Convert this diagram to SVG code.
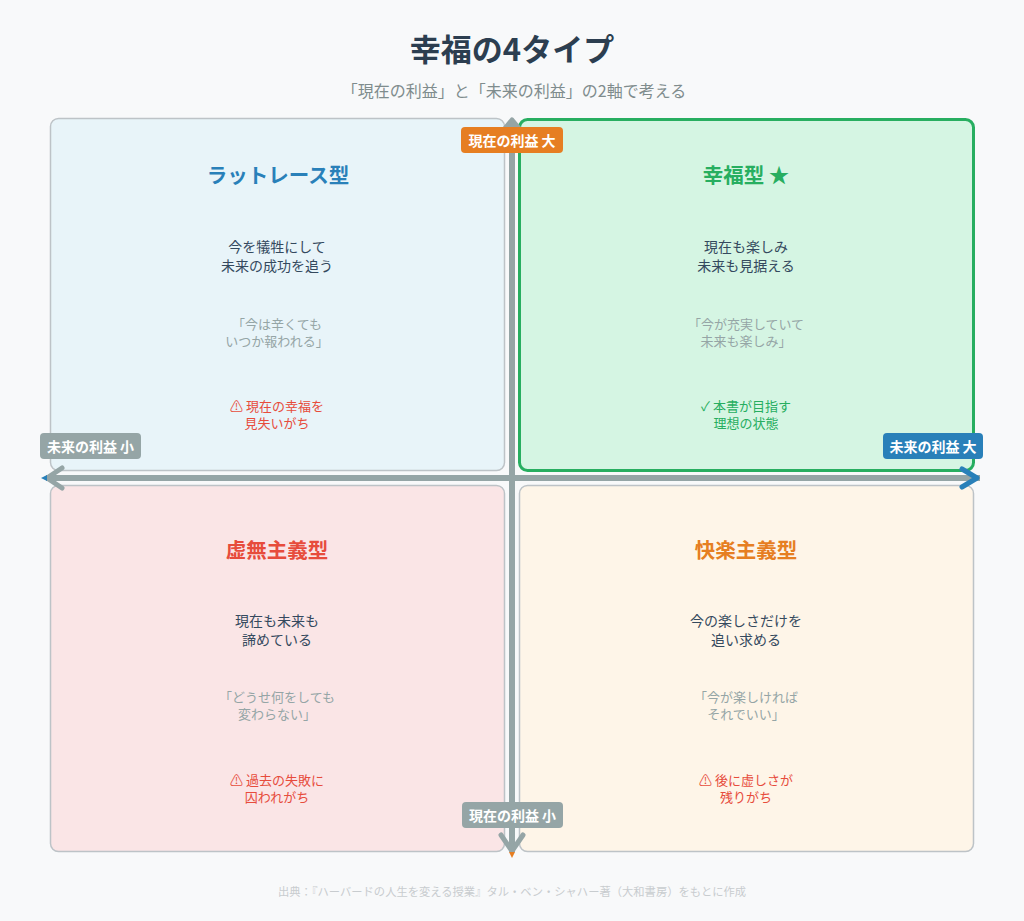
<svg xmlns="http://www.w3.org/2000/svg" width="1024" height="921" viewBox="0 0 1024 921">
<style>
text{font-family:"Noto Sans CJK JP","Noto Sans",sans-serif;text-anchor:middle;dominant-baseline:central}
.title{font-size:31px;font-weight:700;fill:#2c3e50}
.sub{font-size:16px;fill:#7f8c8d}
.qt{font-size:20.5px;font-weight:700}
.desc{font-size:14px;fill:#34495e}
.quote{font-size:13px;fill:#95a5a6}
.warn{font-size:13px;fill:#e74c3c}
.ok{font-size:13px;fill:#27ae60}
.lbl{font-size:14px;font-weight:700;fill:#ffffff}
.q{stroke:#bdc3c7;stroke-width:1.5}
.axis{stroke:#95a5a6;stroke-width:6;fill:none}
.head{stroke:#95a5a6;stroke-width:5;fill:none;stroke-linecap:round;stroke-linejoin:round}
.foot{font-size:11.3px;fill:#c8cccf}
</style>
<rect width="1024" height="921" fill="#f8f9fa"/>
<text class="title" x="512" y="47">幸福の4タイプ</text>
<text class="sub" x="514" y="90">「現在の利益」と「未来の利益」の2軸で考える</text>

<g id="q-ratrace">
<rect class="q" x="50.5" y="118.5" width="454" height="352" rx="8" fill="#e8f4f9"/>
<text class="qt" x="278" y="174" fill="#2980b9">ラットレース型</text>
<text class="desc" x="277" y="246">今を犠牲にして</text>
<text class="desc" x="277" y="265">未来の成功を追う</text>
<text class="quote" x="277" y="323">「今は辛くても</text>
<text class="quote" x="277" y="340">いつか報われる」</text>
<text class="warn" x="277" y="405">⚠ 現在の幸福を</text>
<text class="warn" x="277" y="422">見失いがち</text>
</g>

<g id="q-happy">
<rect x="519.5" y="119.5" width="454" height="351" rx="8" fill="#d5f5e3" stroke="#27ae60" stroke-width="3"/>
<text class="qt" x="746" y="174" fill="#27ae60">幸福型 ★</text>
<text class="desc" x="746" y="246">現在も楽しみ</text>
<text class="desc" x="746" y="265">未来も見据える</text>
<text class="quote" x="746" y="323">「今が充実していて</text>
<text class="quote" x="746" y="340">未来も楽しみ」</text>
<text class="ok" x="746" y="405">✓ 本書が目指す</text>
<text class="ok" x="746" y="422">理想の状態</text>
</g>

<g id="q-nihilism">
<rect class="q" x="50.5" y="485.5" width="454" height="366" rx="8" fill="#fae5e6"/>
<text class="qt" x="277" y="549" fill="#e74c3c">虚無主義型</text>
<text class="desc" x="277" y="620">現在も未来も</text>
<text class="desc" x="277" y="639">諦めている</text>
<text class="quote" x="277" y="696">「どうせ何をしても</text>
<text class="quote" x="277" y="713">変わらない」</text>
<text class="warn" x="277" y="779">⚠ 過去の失敗に</text>
<text class="warn" x="277" y="796">囚われがち</text>
</g>

<g id="q-hedonism">
<rect class="q" x="519.5" y="485.5" width="454" height="366" rx="8" fill="#fef5e8"/>
<text class="qt" x="746" y="549" fill="#e67e22">快楽主義型</text>
<text class="desc" x="746" y="620">今の楽しさだけを</text>
<text class="desc" x="746" y="639">追い求める</text>
<text class="quote" x="746" y="696">「今が楽しければ</text>
<text class="quote" x="746" y="713">それでいい」</text>
<text class="warn" x="746" y="779">⚠ 後に虚しさが</text>
<text class="warn" x="746" y="796">残りがち</text>
</g>

<g id="connectors">
<line class="axis" x1="512" y1="120" x2="512" y2="852"/>
<line class="axis" x1="46" y1="478" x2="980" y2="478"/>
<polyline class="head" points="502,132 512,120 522,132"/>
<polyline class="head" points="501,835 512,851 523,835"/>
<path d="M509,852 L515,852 L512,858 Z" fill="#e67e22"/>
<polyline class="head" points="62,468 47,478 62,488"/>
<path d="M47,475 L47,481 L41,478 Z" fill="#2980b9"/>
<polyline points="962,469 977,478 962,487" fill="none" stroke="#2980b9" stroke-width="5" stroke-linecap="round" stroke-linejoin="round"/>
</g>

<g id="label-now-high">
<rect x="461" y="127" width="102" height="26" rx="4" fill="#e67e22"/>
<text class="lbl" x="512" y="140">現在の利益 大</text>
</g>
<g id="label-future-low">
<rect x="40" y="433" width="101" height="26" rx="4" fill="#95a5a6"/>
<text class="lbl" x="90.5" y="446">未来の利益 小</text>
</g>
<g id="label-future-high">
<rect x="883" y="433" width="100" height="26" rx="4" fill="#2980b9"/>
<text class="lbl" x="933" y="446">未来の利益 大</text>
</g>
<g id="label-now-low">
<rect x="462" y="802" width="101" height="26" rx="4" fill="#95a5a6"/>
<text class="lbl" x="512.5" y="815">現在の利益 小</text>
</g>

<text class="foot" x="512" y="891">出典：『ハーバードの人生を変える授業』タル・ベン・シャハー著（大和書房）をもとに作成</text>
</svg>
